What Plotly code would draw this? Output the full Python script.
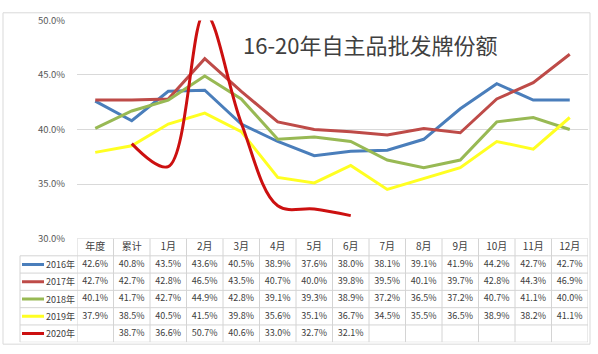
import plotly.graph_objects as go

W, H = 598, 354

categories = ["年度", "累计", "1月", "2月", "3月", "4月", "5月", "6月",
              "7月", "8月", "9月", "10月", "11月", "12月"]
series_names = ["2016年", "2017年", "2018年", "2019年", "2020年"]
s2016 = [42.6, 40.8, 43.5, 43.6, 40.5, 38.9, 37.6, 38.0, 38.1, 39.1, 41.9, 44.2, 42.7, 42.7]
s2017 = [42.7, 42.7, 42.8, 46.5, 43.5, 40.7, 40.0, 39.8, 39.5, 40.1, 39.7, 42.8, 44.3, 46.9]
s2018 = [40.1, 41.7, 42.7, 44.9, 42.8, 39.1, 39.3, 38.9, 37.2, 36.5, 37.2, 40.7, 41.1, 40.0]
s2019 = [37.9, 38.5, 40.5, 41.5, 39.8, 35.6, 35.1, 36.7, 34.5, 35.5, 36.5, 38.9, 38.2, 41.1]
s2020 = [None, 38.7, 36.6, 50.7, 40.6, 33.0, 32.7, 32.1, None, None, None, None, None, None]
series_values = [s2016, s2017, s2018, s2019, s2020]
colors = ["#4A7EBB", "#BE4B48", "#98B954", "#FFFF22", "#CC1010"]
title_text = "16-20年自主品批发牌份额"
y_ticks = [30, 35, 40, 45, 50]

def px_x(p):
    return p / W

def px_y(p):
    return (H - p) / H

fig = go.Figure()

for name, vals, col in zip(series_names, series_values, colors):
    fig.add_trace(go.Scatter(
        x=categories, y=vals, mode="lines", name=name,
        line=dict(color=col, width=3, shape="spline" if name == "2020年" else "linear", smoothing=1.0),
        connectgaps=False, showlegend=False, hoverinfo="skip",
        xaxis="x", yaxis="y",
    ))

# table: header row (index 5) and series rows (4..0)
fig.add_trace(go.Scatter(
    x=categories, y=[5] * len(categories), mode="text", text=categories,
    textfont=dict(family="Noto Sans CJK SC", size=10, color="#404040"),
    showlegend=False, hoverinfo="skip", xaxis="x", yaxis="y2",
))
for i, vals in enumerate(series_values):
    row = 4 - i
    xs = [c for c, v in zip(categories, vals) if v is not None]
    ts = [f"{v:.1f}%" for v in vals if v is not None]
    fig.add_trace(go.Scatter(
        x=xs, y=[row] * len(xs), mode="text", text=ts,
        textfont=dict(family="Noto Sans CJK SC", size=9, color="#404040"),
        showlegend=False, hoverinfo="skip", xaxis="x", yaxis="y2",
    ))

shapes = []
grid_col = "#D4D4D4"
n = len(categories)
# vertical table lines
for k in range(n + 1):
    shapes.append(dict(type="line", xref="x", yref="y2", x0=k - 0.5, x1=k - 0.5,
                       y0=-0.5, y1=5.5, line=dict(color=grid_col, width=1)))
# left edge of legend column
shapes.append(dict(type="line", xref="paper", yref="y2", x0=px_x(20), x1=px_x(20),
                   y0=-0.5, y1=4.5, line=dict(color=grid_col, width=1)))
# horizontal table lines
for r in range(0, 6):
    shapes.append(dict(type="line", xref="paper", yref="y2", x0=px_x(20), x1=px_x(588),
                       y0=r - 0.5, y1=r - 0.5, line=dict(color=grid_col, width=1)))
shapes.append(dict(type="line", xref="paper", yref="y2", x0=px_x(77), x1=px_x(588),
                   y0=5.5, y1=5.5, line=dict(color=grid_col, width=1)))
# legend line samples
annotations = []
for i, (name, col) in enumerate(zip(series_names, colors)):
    row = 4 - i
    shapes.append(dict(type="line", xref="paper", yref="y2", x0=px_x(22), x1=px_x(44),
                       y0=row, y1=row, line=dict(color=col, width=3)))
    annotations.append(dict(xref="paper", yref="y2", x=px_x(77), y=row, text=name,
                            showarrow=False, xanchor="right", yanchor="middle",
                            font=dict(family="Noto Sans CJK SC", size=9, color="#404040")))
# outer border
shapes.append(dict(type="rect", xref="paper", yref="paper", x0=px_x(3), x1=px_x(590),
                   y0=px_y(350), y1=px_y(5), line=dict(color="#D9D9D9", width=1)))

annotations.append(dict(xref="paper", yref="paper", x=px_x(241), y=px_y(37), text=title_text,
                        showarrow=False, xanchor="left", yanchor="middle",
                        font=dict(family="Noto Sans CJK SC", size=22, color="#404040")))

fig.update_layout(
    width=W, height=H, margin=dict(l=0, r=0, t=0, b=0),
    paper_bgcolor="white", plot_bgcolor="white",
    shapes=shapes, annotations=annotations,
    xaxis=dict(domain=[px_x(77), px_x(588)], range=[-0.5, n - 0.5], type="category",
               categoryorder="array", categoryarray=categories,
               showticklabels=False, showgrid=False, zeroline=False, showline=False,
               anchor="y", fixedrange=True),
    yaxis=dict(domain=[px_y(240), px_y(13)], range=[30, 50], tickvals=y_ticks,
               ticktext=[f"{v:.1f}%" for v in y_ticks],
               showgrid=True, gridcolor="#D9D9D9", gridwidth=1, zeroline=False, showline=False,
               ticks="outside", ticklen=9, tickcolor="rgba(0,0,0,0)",
               tickfont=dict(family="Noto Sans CJK SC", size=9.5, color="#595959"),
               anchor="x"),
    yaxis2=dict(domain=[px_y(348), px_y(240)], range=[-0.5, 5.5], showticklabels=False,
                showgrid=False, zeroline=False, showline=False, anchor="x"),
)

fig.write_html("out.html")
